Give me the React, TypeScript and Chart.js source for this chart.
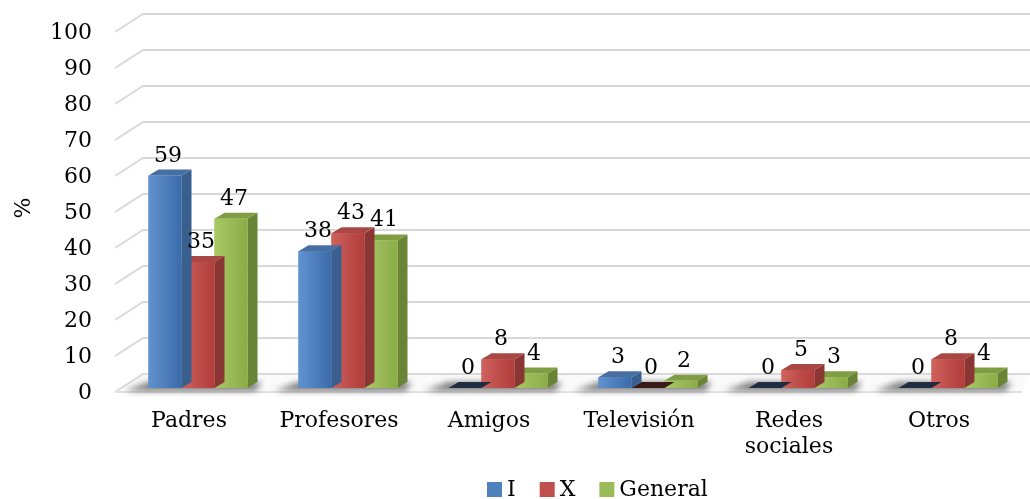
import React, { useEffect, useRef } from "react";
import { Chart, registerables } from "chart.js";

Chart.register(...registerables);

const categories: (string | string[])[] = ["Padres", "Profesores", "Amigos", "Televisión", ["Redes", "sociales"], "Otros"];
const seriesNames = ["I", "X", "General"];
const valuesI = [59, 38, 0, 3, 0, 0];
const valuesX = [35, 43, 8, 0, 5, 8];
const valuesGeneral = [47, 41, 4, 2, 3, 4];
const yMin = 0;
const yMax = 100;
const yStep = 10;
const yTitle = "%";

const palette = [
  { front: "#4f81bd", light: "#6391d0", dark: "#3b6aa8", side: "#395f8e", top: "#476fa3", zero: "#1e2d3f" },
  { front: "#c0504d", light: "#d0635e", dark: "#b23e3b", side: "#8a3634", top: "#a84744", zero: "#3a1a14" },
  { front: "#9bbb59", light: "#a9ca62", dark: "#8aad47", side: "#6a8436", top: "#7f9d42", zero: "#3b4a1d" },
];

const FONT = "'DejaVu Serif', serif";
const DX = 10;
const DY = 6;
const LEGEND_X = 487;
const LEGEND_Y = 489;

const threeD = {
  id: "threeD",
  beforeDatasetsDraw(chart: any) {
    const { ctx, chartArea, scales } = chart;
    const y = scales.y;
    const fx = chartArea.left - 8;
    const bx = chartArea.left + 20;
    ctx.save();
    const p0 = y.getPixelForValue(0);
    // floor
    ctx.fillStyle = "#fafafa";
    ctx.beginPath();
    ctx.moveTo(fx, p0 + 4);
    ctx.lineTo(bx, p0 - 14);
    ctx.lineTo(chart.width, p0 - 14);
    ctx.lineTo(chart.width - 8, p0 + 4);
    ctx.closePath();
    ctx.fill();
    // wall gridlines
    ctx.strokeStyle = "#d9d9d9";
    ctx.lineWidth = 2;
    y.ticks.forEach((t: any) => {
      const py = y.getPixelForValue(t.value);
      ctx.beginPath();
      ctx.moveTo(fx, py + 4);
      ctx.lineTo(bx, py - 14);
      ctx.lineTo(chart.width, py - 14);
      ctx.stroke();
    });
    // floor front edge
    ctx.strokeStyle = "#e2e2e2";
    ctx.beginPath();
    ctx.moveTo(fx, p0 + 4);
    ctx.lineTo(chart.width - 8, p0 + 4);
    ctx.stroke();
    // shadows under each group
    const metas = chart.getSortedVisibleDatasetMetas();
    if (metas.length) {
      const first = metas[0];
      const last = metas[metas.length - 1];
      ctx.filter = "blur(3px)";
      ctx.fillStyle = "rgba(40,40,40,0.6)";
      first.data.forEach((b: any, i: number) => {
        const fb = b.getProps(["x", "width", "base"], true);
        const lb = last.data[i].getProps(["x", "width", "base"], true);
        const l = fb.x - fb.width / 2;
        const r = lb.x + lb.width / 2 + DX;
        const base = fb.base;
        ctx.beginPath();
        ctx.moveTo(l - 24, base + 3);
        ctx.lineTo(l, base - DY);
        ctx.lineTo(r + 4, base - DY);
        ctx.lineTo(r - 2, base + 3);
        ctx.closePath();
        ctx.fill();
      });
      ctx.filter = "none";
    }
    ctx.restore();
  },
  beforeDatasetDraw(chart: any, args: any) {
    const { ctx } = chart;
    const meta = args.meta;
    const c = palette[args.index];
    ctx.save();
    meta.data.forEach((b: any, i: number) => {
      const p = b.getProps(["x", "y", "base", "width"], true);
      const l = p.x - p.width / 2;
      const r = p.x + p.width / 2;
      const top = Math.min(p.y, p.base);
      const base = p.base;
      const v = chart.data.datasets[args.index].data[i];
      if (v === 0) {
        ctx.fillStyle = c.zero;
        ctx.beginPath();
        ctx.moveTo(l, base);
        ctx.lineTo(l + DX, base - DY);
        ctx.lineTo(r + DX, base - DY);
        ctx.lineTo(r, base);
        ctx.closePath();
        ctx.fill();
        return;
      }
      // side
      ctx.fillStyle = c.side;
      ctx.beginPath();
      ctx.moveTo(r, top);
      ctx.lineTo(r + DX, top - DY);
      ctx.lineTo(r + DX, base - DY);
      ctx.lineTo(r, base);
      ctx.closePath();
      ctx.fill();
      // top
      ctx.fillStyle = c.top;
      ctx.beginPath();
      ctx.moveTo(l, top);
      ctx.lineTo(l + DX, top - DY);
      ctx.lineTo(r + DX, top - DY);
      ctx.lineTo(r, top);
      ctx.closePath();
      ctx.fill();
    });
    ctx.restore();
  },
  afterDatasetDraw(chart: any, args: any) {
    const { ctx } = chart;
    const c = palette[args.index];
    ctx.save();
    args.meta.data.forEach((b: any) => {
      const p = b.getProps(["x", "y", "base", "width"], true);
      const l = p.x - p.width / 2;
      const top = Math.min(p.y, p.base);
      const h = Math.abs(p.base - p.y);
      if (h <= 0) return;
      const g = ctx.createLinearGradient(l, 0, l + p.width, 0);
      g.addColorStop(0, c.light);
      g.addColorStop(0.45, c.front);
      g.addColorStop(1, c.dark);
      ctx.fillStyle = g;
      ctx.fillRect(l, top, p.width, h);
    });
    ctx.restore();
  },
  afterDatasetsDraw(chart: any) {
    const { ctx } = chart;
    ctx.save();
    ctx.font = `22px ${FONT}`;
    ctx.fillStyle = "#000";
    ctx.textAlign = "center";
    ctx.textBaseline = "alphabetic";
    chart.getSortedVisibleDatasetMetas().forEach((meta: any) => {
      const ds = chart.data.datasets[meta.index];
      meta.data.forEach((b: any, i: number) => {
        const p = b.getProps(["x", "y"], true);
        ctx.fillText(String(ds.data[i]), p.x + 3, p.y - 14);
      });
    });
    // legend
    let x = LEGEND_X;
    ctx.textAlign = "left";
    ctx.textBaseline = "middle";
    chart.data.datasets.forEach((ds: any, i: number) => {
      ctx.fillStyle = palette[i].front;
      ctx.fillRect(x, LEGEND_Y - 7, 15, 15);
      ctx.fillStyle = "#000";
      ctx.fillText(ds.label, x + 20, LEGEND_Y + 1);
      x += 20 + ctx.measureText(ds.label).width + 24;
    });
    ctx.restore();
  },
};

export default function App() {
  const ref = useRef<HTMLCanvasElement>(null);
  useEffect(() => {
    if (!ref.current) return;
    const seriesValues = [valuesI, valuesX, valuesGeneral];
    const chart = new Chart(ref.current, {
      type: "bar",
      data: {
        labels: categories,
        datasets: seriesNames.map((name, i) => ({
          label: name,
          data: seriesValues[i],
          backgroundColor: palette[i].front,
          borderWidth: 0,
          categoryPercentage: 0.66,
          barPercentage: 1,
        })),
      },
      options: {
        responsive: false,
        animation: false,
        layout: { padding: { top: 28, right: 7, left: 0, bottom: 0 } },
        plugins: { legend: { display: false }, tooltip: { enabled: false } },
        scales: {
          x: {
            grid: { display: false, drawTicks: false },
            border: { display: false },
            ticks: {
              color: "#000",
              font: { family: FONT, size: 22 },
              padding: 20,
              labelOffset: -9,
              maxRotation: 0,
              autoSkip: false,
            },
            afterFit: (s: any) => {
              s.height = 111;
              s.paddingLeft = 0;
              s.paddingRight = 0;
            },
          },
          y: {
            min: yMin,
            max: yMax,
            grid: { display: false, drawTicks: false },
            border: { display: false },
            ticks: {
              stepSize: yStep,
              color: "#000",
              font: { family: FONT, size: 22 },
              padding: 31,
              labelOffset: 5,
            },
            title: {
              display: true,
              text: yTitle,
              color: "#000",
              font: { family: FONT, size: 22 },
              padding: { top: 11, bottom: 0 },
            },
            afterFit: (s: any) => {
              s.width = 123;
              s.paddingTop = 0;
              s.paddingBottom = 0;
            },
          },
        },
      },
      plugins: [threeD],
    });
    return () => chart.destroy();
  }, []);
  return (
    <div style={{ position: "absolute", left: 0, top: 0, width: 1030, height: 499, background: "#fff" }}>
      <canvas ref={ref} width={1030} height={499} style={{ display: "block" }} />
    </div>
  );
}
